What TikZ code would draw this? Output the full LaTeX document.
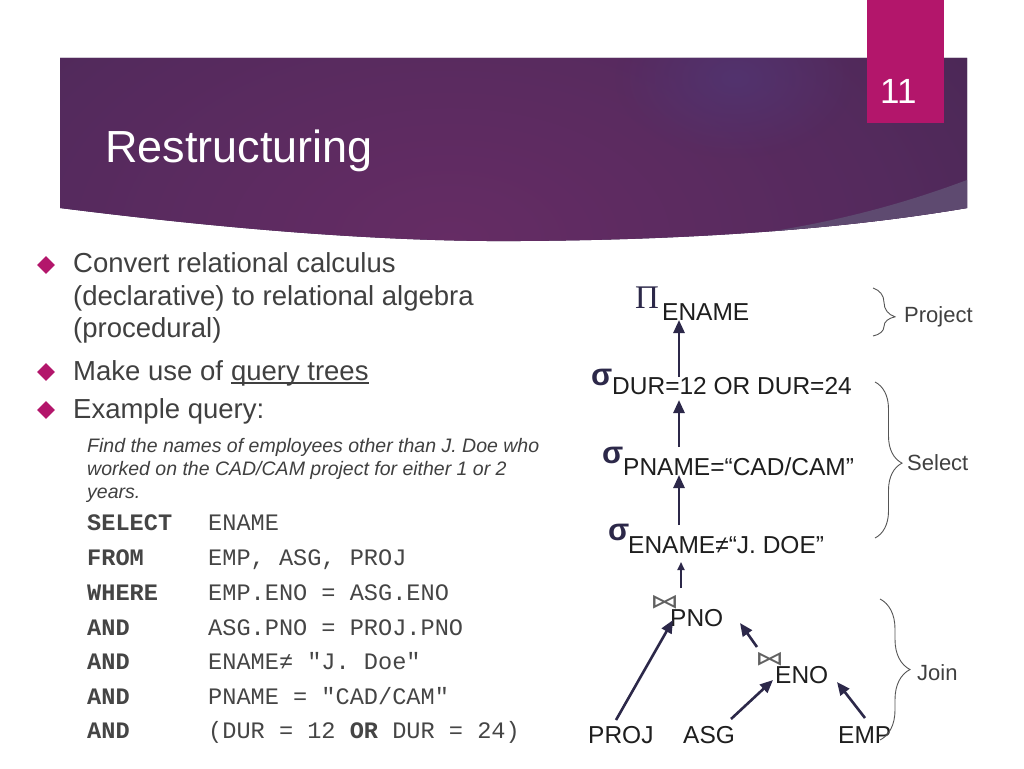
\documentclass[tikz,border=0pt]{standalone}
\usepackage{fontspec}
\setmainfont{Liberation Sans}
\setmonofont{Liberation Mono}
\newfontfamily\pifont{Liberation Serif}
\newfontfamily\symfont{DejaVu Sans}
\usetikzlibrary{arrows.meta,shapes.geometric,decorations.pathreplacing,calc,fadings}
\definecolor{bnA}{HTML}{652C64}
\definecolor{bnB}{HTML}{542A5D}
\definecolor{bnC}{HTML}{432650}
\definecolor{bnD}{HTML}{33214B}
\definecolor{band}{HTML}{5E4A70}
\definecolor{pinkc}{HTML}{B3166B}
\definecolor{glowc}{HTML}{52336E}
\definecolor{txt}{HTML}{404040}
\definecolor{sqlc}{HTML}{454545}
\definecolor{treet}{HTML}{1E1E1E}
\definecolor{navy}{HTML}{2C2849}
\definecolor{bracecol}{HTML}{555555}
\pgfdeclareradialshading{bannerglow}{\pgfpointorigin}{color(0bp)=(bnA); color(20bp)=(bnB); color(35bp)=(bnC); color(50bp)=(bnD); color(72bp)=(bnD)}
\tikzfading[name=glowfade, inner color=transparent!0, outer color=transparent!100]
\newcommand{\bowsym}{\scalebox{1.45}[1]{⋈}}
\begin{document}
\begin{tikzpicture}[x=1pt,y=-1pt,
  every node/.style={inner sep=0pt, anchor=base west},
  titlest/.style={font=\fontsize{45}{54}\selectfont, text=white},
  numst/.style={font=\fontsize{35}{42}\selectfont, text=white},
  bul/.style={font=\fontsize{27.5}{33}\selectfont, text=txt},
  bdia/.style={diamond, fill=pinkc, minimum width=18pt, minimum height=18pt, anchor=center},
  qd/.style={font=\fontsize{19.5}{23}\selectfont\itshape, text=txt},
  sqlk/.style={font=\fontsize{23.6}{28}\selectfont\ttfamily\bfseries, text=sqlc},
  sqlv/.style={font=\fontsize{23.6}{28}\selectfont\ttfamily, text=sqlc},
  tr/.style={font=\fontsize{24.5}{29}\selectfont, text=treet},
  sig/.style={font=\fontsize{31}{35}\selectfont\bfseries, text=navy},
  pist/.style={font=\fontsize{33}{38}\selectfont\pifont, text=navy},
  bow/.style={font=\fontsize{20}{24}\selectfont\symfont, text=treet!70},
  arr/.style={draw=navy, line width=2.6pt, -{Triangle[length=13pt,width=11pt]}},
  arrs/.style={draw=navy, line width=1.8pt, -{Triangle[length=8pt,width=7pt]}},
  bracest/.style={draw=bracecol, line width=0.9pt, decorate},
  lab/.style={font=\fontsize{22}{26}\selectfont, text=txt}]
\useasboundingbox (0,0) rectangle (1024,768);
\fill[white] (0,0) rectangle (1024,768);
% banner
\begin{scope}
  \clip (60,58) -- (967,58) -- (967,208) .. controls (850,228) and (700,240) .. (520,241) .. controls (400,242) and (250,232) .. (60,208) -- cycle;
  \fill[bnD] (0,0) rectangle (1024,260);
  \shade[shading=bannerglow] (-100,-90) rectangle (1000,570);
  \fill[glowc, path fading=glowfade] (735,78) ellipse (120 and 80);
  \fill[band] (700,241) .. controls (820,228) and (900,205) .. (967,180) -- (990,180) -- (990,260) -- (700,260) -- cycle;
\end{scope}
\fill[pinkc] (867,0) rectangle (944,123);
\node[titlest] (ttl) at (105,162) {Restructuring};
\node[numst] (pg) at (880,103) {11};
% bullets
\node[bdia] (d1) at (46,265) {};
\node[bul] (b1a) at (73,272) {Convert relational calculus};
\node[bul] (b1b) at (73,305) {(declarative) to relational algebra};
\node[bul] (b1c) at (73,337) {(procedural)};
\node[bdia] (d2) at (46,372) {};
\node[bul] (b2) at (73,380) {Make use of};
\node[bul] (b2q) at ($(b2.base east)+(7.6,0)$) {query trees};
\draw[txt, line width=1.3pt] ($(b2q.base west)+(0,3)$) -- ($(b2q.base east)+(0,3)$);
\node[bdia] (d3) at (46,410) {};
\node[bul] (b3) at (73,418) {Example query:};
% query description
\node[qd] (q1) at (87,452) {Find the names of employees other than J. Doe who};
\node[qd] (q2) at (87,475) {worked on the CAD/CAM project for either 1 or 2};
\node[qd] (q3) at (87,498) {years.};
% SQL
\node[sqlk] (k1) at (87,530) {SELECT};
\node[sqlv] (v1) at (208,530) {ENAME};
\node[sqlk] (k2) at (87,565) {FROM};
\node[sqlv] (v2) at (208,565) {EMP, ASG, PROJ};
\node[sqlk] (k3) at (87,600) {WHERE};
\node[sqlv] (v3) at (208,600) {EMP.ENO = ASG.ENO};
\node[sqlk] (k4) at (87,635) {AND};
\node[sqlv] (v4) at (208,635) {ASG.PNO = PROJ.PNO};
\node[sqlk] (k5) at (87,669) {AND};
\node[sqlv] (v5) at (208,669) {ENAME≠ "J. Doe"};
\node[sqlk] (k6) at (87,704) {AND};
\node[sqlv] (v6) at (208,704) {PNAME = "CAD/CAM"};
\node[sqlk] (k7) at (87,738) {AND};
\node[sqlv] (v7) at (208,738) {(DUR = 12 {\bfseries OR} DUR = 24)};
% tree
\node[pist] (pi) at (635,308) {Π};
\node[tr] (pe) at (662,320) {ENAME};
\node[sig] (sg1) at (591,385) {σ};
\node[tr] (dur) at (612,394) {DUR=12 OR DUR=24};
\node[sig] (sg2) at (602,463) {σ};
\node[tr] (pname) at (623,475) {PNAME=“CAD/CAM”};
\node[sig] (sg3) at (608,540) {σ};
\node[tr] (ename) at (628,553) {ENAME≠“J. DOE”};
\node[bow] (bt1) at (650,608) {\bowsym};
\node[tr] (pno) at (670,626) {PNO};
\node[bow] (bt2) at (755,665) {\bowsym};
\node[tr] (eno) at (775,683) {ENO};
\node[tr] (proj) at (588,743) {PROJ};
\node[tr] (asg) at (683,743) {ASG};
\node[tr] (emp) at (838,743) {EMP};
\draw[arr] ($(dur.base west)+(67,-17)$) -- ($(pe.base west)+(17,0)$);
\draw[arr] ($(pname.base west)+(56,-28)$) -- ($(dur.base west)+(67,6)$);
\draw[arr] ($(ename.base west)+(51,-28)$) -- ($(pname.base west)+(56,0)$);
\draw[arrs] ($(pno.base west)+(11,-38)$) -- ($(ename.base west)+(53,9)$);
\draw[arr] ($(proj.base west)+(28,-23)$) -- ($(pno.base west)+(3,-6)$);
\draw[arr] ($(eno.base west)+(-18,-36)$) -- ($(pno.base west)+(70,-3)$);
\draw[arr] ($(asg.base west)+(48,-24)$) -- ($(eno.base west)+(-2,-3)$);
\draw[arr] ($(emp.base west)+(27,-25)$) -- ($(eno.base west)+(62,-1)$);
% braces
\coordinate (pjt) at (873,288); \coordinate (pjb) at (873,336);
\coordinate (slt) at (875,382); \coordinate (slb) at (875,538);
\coordinate (jnt) at (880,599); \coordinate (jnb) at (880,740);
\draw[bracest, decoration={brace, amplitude=22pt, aspect=0.6}] (pjt) -- (pjb);
\draw[bracest, decoration={brace, amplitude=27pt, aspect=0.52}] (slt) -- (slb);
\draw[bracest, decoration={brace, amplitude=30pt, aspect=0.5}] (jnt) -- (jnb);
\node[lab] (lp) at (904,322) {Project};
\node[lab] (ls) at (907,470) {Select};
\node[lab] (lj) at (917,680) {Join};
\end{tikzpicture}
\end{document}
